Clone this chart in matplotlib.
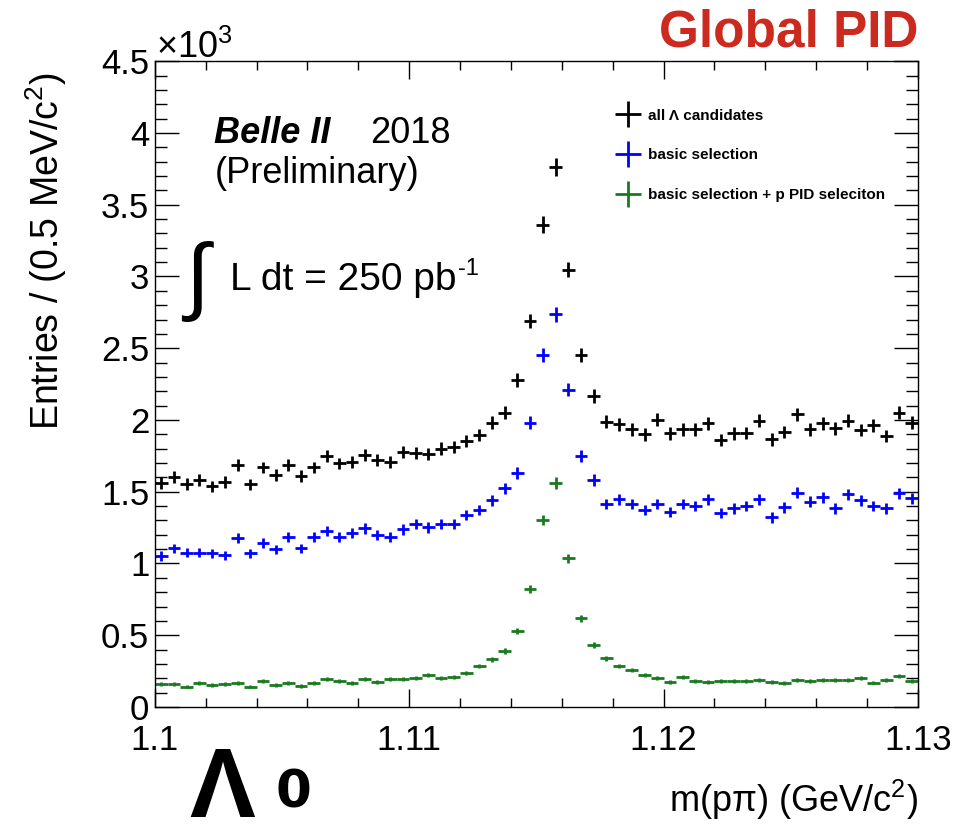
import matplotlib
matplotlib.use("Agg")
import matplotlib.pyplot as plt
from matplotlib.lines import Line2D
from matplotlib.ticker import MultipleLocator, FuncFormatter
import numpy as np

plt.rcParams['font.family'] = ['Liberation Sans', 'DejaVu Sans']
plt.rcParams['mathtext.fontset'] = 'custom'
plt.rcParams['mathtext.rm'] = 'Liberation Sans'
plt.rcParams['mathtext.it'] = 'Liberation Sans:italic'

# m(p pi) histogram, 60 bins of 0.5 MeV from 1.100 to 1.130 GeV
bin_lo = 1.100
bin_width = 0.0005
all_cands = [1562, 1604, 1553, 1581, 1539, 1569, 1685, 1551, 1669, 1616,
             1685, 1609, 1669, 1748, 1697, 1708, 1755, 1720, 1708, 1778,
             1771, 1762, 1801, 1813, 1855, 1894, 1980, 2050, 2277, 2690,
             3361, 3763, 3048, 2451, 2168, 1987, 1971, 1934, 1899, 2003,
             1906, 1934, 1934, 1976, 1859, 1906, 1910, 1994, 1864, 1917,
             2040, 1934, 1976, 1941, 1994, 1929, 1964, 1887, 2050, 1980]
basic_sel = [1052, 1105, 1075, 1075, 1070, 1058, 1175, 1070, 1144, 1098,
             1182, 1105, 1182, 1228, 1182, 1214, 1244, 1198, 1182, 1237,
             1274, 1251, 1274, 1274, 1337, 1372, 1442, 1523, 1632, 1980,
             2451, 2737, 2212, 1748, 1581, 1414, 1446, 1414, 1372, 1414,
             1360, 1414, 1400, 1446, 1353, 1384, 1400, 1446, 1321, 1391,
             1492, 1430, 1460, 1384, 1483, 1442, 1400, 1384, 1488, 1453]
basic_pid = [160, 160, 141, 169, 153, 160, 169, 141, 181, 153,
             169, 146, 169, 193, 181, 169, 193, 176, 193, 193,
             200, 223, 204, 211, 239, 286, 332, 392, 531, 820,
             1302, 1562, 1035, 618, 432, 339, 286, 258, 223, 200,
             176, 211, 183, 172, 181, 181, 181, 188, 172, 165,
             190, 183, 188, 188, 188, 204, 170, 188, 216, 181]

labels = ['all \u039b candidates', 'basic selection',
          'basic selection + p PID seleciton']
colors = ['black', '#0000ff', '#1a7a1f']

fig = plt.figure(figsize=(9.74, 8.38), dpi=100)
ax = fig.add_axes([0.159, 0.1563, 0.7835, 0.7707])

centers = bin_lo + bin_width * (np.arange(len(all_cands)) + 0.5)
for vals, col in zip([all_cands, basic_sel, basic_pid], colors):
    vals = np.array(vals, dtype=float)
    ax.errorbar(centers, vals, xerr=bin_width / 2, yerr=np.sqrt(vals),
                fmt='none', ecolor=col, elinewidth=2.0, capsize=0)

ax.set_xlim(1.1, 1.13)
ax.set_ylim(0, 4500)
ax.xaxis.set_major_locator(MultipleLocator(0.01))
ax.xaxis.set_minor_locator(MultipleLocator(0.002))
ax.yaxis.set_major_locator(MultipleLocator(500))
ax.yaxis.set_minor_locator(MultipleLocator(100))
ax.xaxis.set_major_formatter(FuncFormatter(lambda v, p: f'{v:g}'))
ax.yaxis.set_major_formatter(FuncFormatter(lambda v, p: f'{v / 1000:g}'))

ax.tick_params(axis='both', which='both', direction='in', top=True,
               right=True, width=1.0, colors='black')
ax.tick_params(axis='y', which='major', length=17, labelsize=25, pad=4)
ax.tick_params(axis='y', which='minor', length=8.5)
ax.tick_params(axis='x', which='major', length=13, labelsize=25, pad=12)
ax.tick_params(axis='x', which='minor', length=6.5)
for s in ax.spines.values():
    s.set_linewidth(1.0)

ax.set_ylabel('Entries / (0.5 MeV/c$^{2}$)', fontsize=27)
ax.yaxis.set_label_coords(-0.112, 0.705)
fig.text(0.9425, 0.031, 'm(p\u03c0) (GeV/c$^{2}$)', fontsize=26,
         ha='right', va='baseline')

fig.text(0.160, 0.931, r'$\times$10$^{3}$', fontsize=26, ha='left',
         va='baseline')

ax.text(0.078, 0.873, 'Belle II', fontsize=26, fontweight='bold',
        fontstyle='italic', transform=ax.transAxes, va='baseline')
ax.text(0.282, 0.873, '2018', fontsize=26, transform=ax.transAxes,
        va='baseline')
ax.text(0.078, 0.811, '(Preliminary)', fontsize=26, transform=ax.transAxes,
        va='baseline')
ax.text(0.034, 0.659, r'$\int$', fontsize=62, transform=ax.transAxes,
        va='center', ha='left')
t_lum = ax.text(0.098, 0.645, 'L dt = 250 pb', fontsize=28,
                transform=ax.transAxes, va='baseline')
ax.annotate('-1', xy=(1, 1), xycoords=t_lum, xytext=(1, -9),
            textcoords='offset points', fontsize=17, va='baseline')

handles = [Line2D([], [], color=c, marker='+', markersize=19,
                  markeredgewidth=2.0, linestyle='none') for c in colors]
ax.legend(handles, labels, loc='upper left', bbox_to_anchor=(0.5815, 0.948),
          frameon=False, prop={'size': 11, 'weight': 'bold'},
          handlelength=2.0, handletextpad=0.3, labelspacing=1.7)

fig.text(0.9425, 0.945, 'Global PID', fontsize=37, fontweight='bold',
         color='#cc2a1e', ha='right', va='baseline')
fig.text(0.194, 0.001, '\u039b', fontsize=71, fontweight='bold',
         ha='left', va='bottom')
fig.text(0.283, 0.036, '0', fontsize=37, fontweight='bold',
         family='DejaVu Sans', ha='left', va='baseline')

fig.savefig('out.png', dpi=100, facecolor='white')
